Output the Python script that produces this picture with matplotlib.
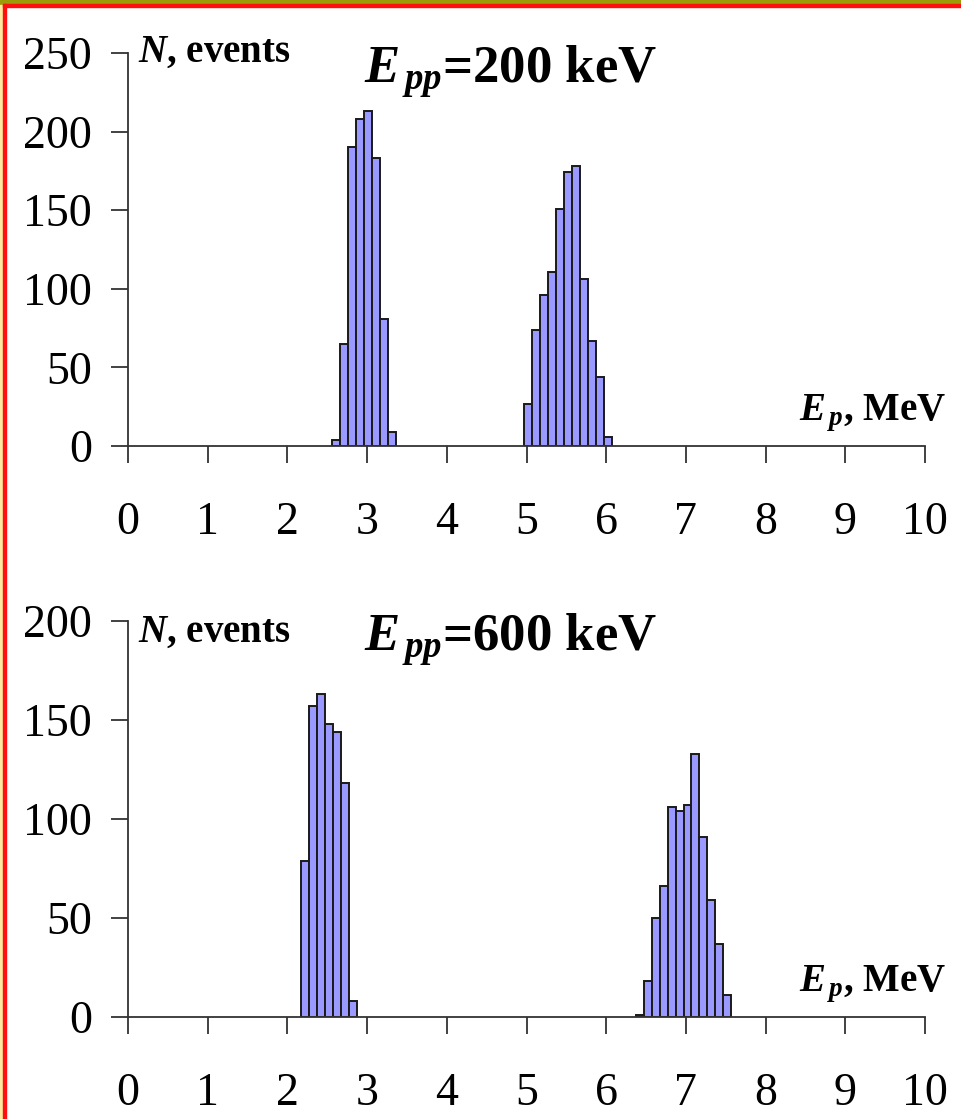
import matplotlib
matplotlib.use("Agg")
import matplotlib.pyplot as plt
from matplotlib.patches import Rectangle

plt.rcParams['font.family'] = ['Liberation Serif', 'DejaVu Serif']
plt.rcParams['mathtext.fontset'] = 'custom'
plt.rcParams['mathtext.rm'] = 'Liberation Serif'
plt.rcParams['mathtext.it'] = 'Liberation Serif:italic'
plt.rcParams['mathtext.bf'] = 'Liberation Serif:bold'
plt.rcParams['mathtext.bfit'] = 'Liberation Serif:italic:bold'

# ---- data ----
top_centers_1 = [2.61, 2.71, 2.81, 2.91, 3.01, 3.11, 3.21, 3.31]
top_counts_1 = [4, 65, 190, 208, 213, 183, 81, 9]
top_centers_2 = [5.02, 5.12, 5.22, 5.32, 5.42, 5.52, 5.62, 5.72, 5.82, 5.92, 6.02]
top_counts_2 = [27, 74, 96, 111, 151, 174, 178, 106, 67, 44, 6]

bot_centers_1 = [2.22, 2.32, 2.42, 2.52, 2.62, 2.72, 2.82]
bot_counts_1 = [79, 157, 163, 148, 144, 118, 8]
bot_centers_2 = [6.42, 6.52, 6.62, 6.72, 6.82, 6.92, 7.02, 7.12, 7.22, 7.32, 7.42, 7.52]
bot_counts_2 = [1, 18, 50, 66, 106, 104, 107, 133, 91, 59, 37, 11]

x_ticks = [0, 1, 2, 3, 4, 5, 6, 7, 8, 9, 10]
top_y_ticks = [0, 50, 100, 150, 200, 250]
bot_y_ticks = [0, 50, 100, 150, 200]
titles = ["=200 keV", "=600 keV"]

W, H = 961, 1119
fig = plt.figure(figsize=(W / 100, H / 100), dpi=100)

BAR_FC = '#9999ff'
AX_C = '#333333'


def px(x0, y0, w, h):
    return [x0 / W, 1 - (y0 + h) / H, w / W, h / H]


def setup(ax, ymax, yticks, title, peaks, n_y):
    for c, n in peaks:
        ax.bar(c, n, width=0.1, color=BAR_FC, edgecolor='#1a1a1a', linewidth=1.4,
               zorder=3)
    ax.set_xlim(0, 10)
    ax.set_ylim(0, ymax)
    ax.set_xticks(x_ticks)
    ax.set_xticklabels([str(t) for t in x_ticks])
    ax.set_yticks(yticks)
    ax.set_yticklabels([str(t) for t in yticks])
    for s in ['top', 'right']:
        ax.spines[s].set_visible(False)
    for s in ['left', 'bottom']:
        ax.spines[s].set_color(AX_C)
        ax.spines[s].set_linewidth(1.3)
        ax.spines[s].set_zorder(4)
    ax.tick_params(axis='x', direction='out', length=12, width=1.3, color=AX_C,
                   labelsize=33, pad=28)
    ax.tick_params(axis='y', direction='out', length=12, width=1.3, color=AX_C,
                   labelsize=33, pad=14)
    ax.patch.set_alpha(0)
    ax.text(0.012, n_y, r"$\mathbfit{N}$, events", transform=ax.transAxes,
            fontsize=28, fontweight='bold', ha='left', va='baseline')
    ax.text(1.027, 0.066, r"$\mathbfit{E}_{\,\mathbfit{p}}$, MeV", transform=ax.transAxes,
            fontsize=28, fontweight='bold', ha='right', va='baseline')
    ax.text(0.48, 0.924, r"$\mathbfit{E}_{\,\mathbfit{pp}}$" + title, transform=ax.transAxes,
            fontsize=38, fontweight='bold', ha='center', va='baseline')


ax1 = fig.add_axes(px(128, 53, 797, 393))
setup(ax1, 250, top_y_ticks, titles[0],
      [(top_centers_1, top_counts_1), (top_centers_2, top_counts_2)], 0.977)
ax2 = fig.add_axes(px(128, 621, 797, 396))
setup(ax2, 200, bot_y_ticks, titles[1],
      [(bot_centers_1, bot_counts_1), (bot_centers_2, bot_counts_2)], 0.947)

# frame decorations
fig.patches.append(Rectangle((0, 1 - 5 / H), 1, 5 / H, transform=fig.transFigure,
                             color='#9c9c08', zorder=10))
fig.patches.append(Rectangle((3 / W, 1 - 7 / H), 1, 3 / H, transform=fig.transFigure,
                             color='#ff1010', zorder=11))
fig.patches.append(Rectangle((0, 0), 3 / W, 1 - 5 / H, transform=fig.transFigure,
                             color='#fbeaa0', zorder=10))
fig.patches.append(Rectangle((3 / W, 0), 3 / W, 1 - 4 / H, transform=fig.transFigure,
                             color='#ff1010', zorder=11))

fig.savefig('out.png', dpi=100)
